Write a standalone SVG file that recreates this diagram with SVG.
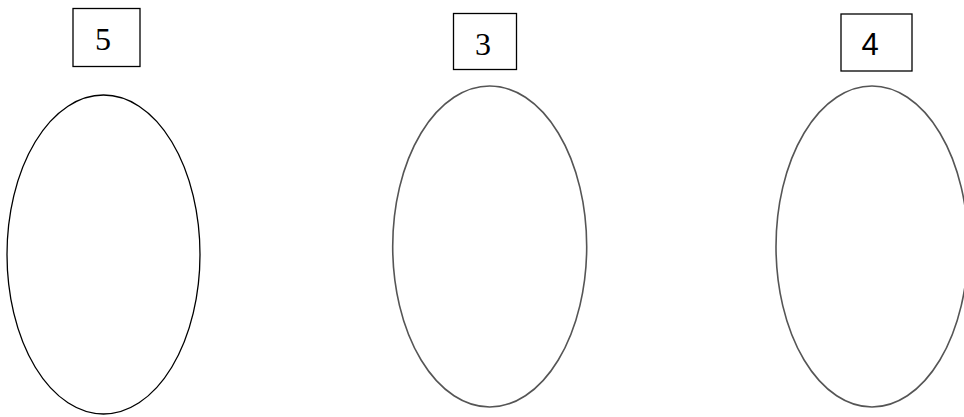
<svg xmlns="http://www.w3.org/2000/svg" width="964" height="417" viewBox="0 0 964 417">
<style>
.box{fill:#fff;stroke:#000;stroke-width:1.3}
.lbl{font-family:"Liberation Serif","Times New Roman",serif;font-size:32px;fill:#000;text-anchor:middle}
.sans{font-family:"Liberation Sans",Arial,sans-serif;font-size:31px}
.ell1{fill:none;stroke:#000;stroke-width:1.3}
.ell{fill:none;stroke:#555;stroke-width:1.6}
</style>
<rect width="964" height="417" fill="#fff"/>
<g id="node-5">
<rect class="box" x="73" y="8.5" width="67" height="58"/>
<text class="lbl" x="103" y="50">5</text>
</g>
<g id="node-3">
<rect class="box" x="453.5" y="13.5" width="63" height="56"/>
<text class="lbl" x="483" y="55">3</text>
</g>
<g id="node-4">
<rect class="box" x="841" y="14" width="71" height="57"/>
<text class="lbl sans" x="870" y="55">4</text>
</g>
<g id="ellipse-1"><ellipse class="ell1" cx="103.5" cy="254.5" rx="96.5" ry="159.5"/></g>
<g id="ellipse-2"><ellipse class="ell" cx="489.7" cy="246.5" rx="97" ry="160.5"/></g>
<g id="ellipse-3"><ellipse class="ell" cx="872" cy="246.5" rx="96" ry="160.5"/></g>
<g id="connectors"></g>
</svg>
